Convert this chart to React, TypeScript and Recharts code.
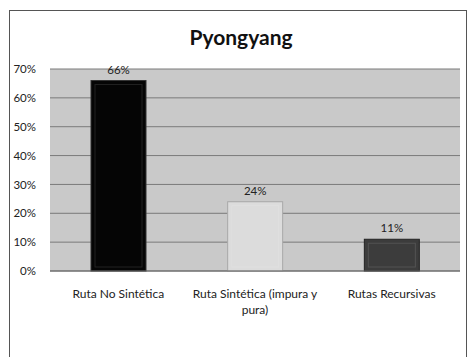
import { BarChart, Bar, XAxis, YAxis, CartesianGrid, LabelList, Cell } from "recharts";

const categories = ["Ruta No Sintética", "Ruta Sintética (impura y pura)", "Rutas Recursivas"];
const shares = [66, 24, 11];
const yTicks = [0, 10, 20, 30, 40, 50, 60, 70];
const barFills = ["#050505", "#dcdcdc", "#3c3c3c"];
const barStrokes = ["#333333", "#a8a8a8", "#222222"];

const data = categories.map((name, i) => ({ name, value: shares[i] }));

const FONT = "Lato, 'Open Sans', sans-serif";

// greedy word wrap by character count, like Excel's category labels
function wrapWords(s: string, maxChars: number) {
  const lines: string[] = [];
  let cur = "";
  for (const w of s.split(" ")) {
    const next = cur ? cur + " " + w : w;
    if (next.length > maxChars && cur) {
      lines.push(cur);
      cur = w;
    } else {
      cur = next;
    }
  }
  if (cur) lines.push(cur);
  return lines;
}

function CategoryTick(props: any) {
  const { x, y, payload } = props;
  const lines = wrapWords(String(payload.value), 24);
  return (
    <text x={x} y={y + 19} textAnchor="middle" fontSize={12} fontFamily={FONT} fill="#222">
      {lines.map((l, i) => (
        <tspan key={i} x={x} dy={i === 0 ? 0 : 16}>
          {l}
        </tspan>
      ))}
    </text>
  );
}

function BevelBar(props: any) {
  const { x, y, width, height, fill, stroke } = props;
  if (!height || height <= 0) return null;
  const b = 4;
  return (
    <g>
      <rect x={x} y={y} width={width} height={height} fill={fill} stroke={stroke} strokeWidth={1} />
      <rect
        x={x + b}
        y={y + b}
        width={Math.max(width - 2 * b, 0)}
        height={Math.max(height - 2 * b, 0)}
        fill={fill}
        stroke="rgba(255,255,255,0.12)"
        strokeWidth={1}
      />
    </g>
  );
}

export default function App() {
  return (
    <div style={{ position: "fixed", left: 0, top: 0, width: 468, height: 357, background: "#fff", overflow: "hidden" }}>
      <div
        style={{
          position: "absolute",
          left: 9,
          top: 10,
          width: 456,
          height: 360,
          border: "1.5px solid #555",
        }}
      />
      <div
        style={{
          position: "absolute",
          left: 0,
          width: 482,
          top: 24,
          textAlign: "center",
          fontFamily: FONT,
          fontWeight: 700,
          fontSize: 21,
          color: "#111",
        }}
      >
        Pyongyang
      </div>
      <BarChart
        width={468}
        height={357}
        data={data}
        margin={{ top: 69, right: 8, left: 0, bottom: 46 }}
        barCategoryGap="30%"
        style={{ position: "absolute", left: 0, top: 0 }}
      >
        <CartesianGrid vertical={false} fill="#c9c9c9" stroke="#7a7a7a" />
        <XAxis
          dataKey="name"
          height={40}
          tickLine={false}
          axisLine={{ stroke: "#666" }}
          interval={0}
          tick={<CategoryTick />}
        />
        <YAxis
          width={50}
          domain={[0, 70]}
          ticks={yTicks}
          tickFormatter={(v: number) => `${v}%`}
          tickLine={false}
          axisLine={false}
          tick={{ fontSize: 11.5, fontFamily: FONT, fill: "#222" }}
          tickMargin={8}
        />
        <Bar dataKey="value" isAnimationActive={false} shape={<BevelBar />}>
          {data.map((d, i) => (
            <Cell key={d.name} fill={barFills[i]} stroke={barStrokes[i]} />
          ))}
          <LabelList
            dataKey="value"
            position="top"
            offset={7}
            formatter={(v: any) => `${v}%`}
            style={{ fontSize: 11.5, fontFamily: FONT, fill: "#222" }}
          />
        </Bar>
      </BarChart>
    </div>
  );
}
